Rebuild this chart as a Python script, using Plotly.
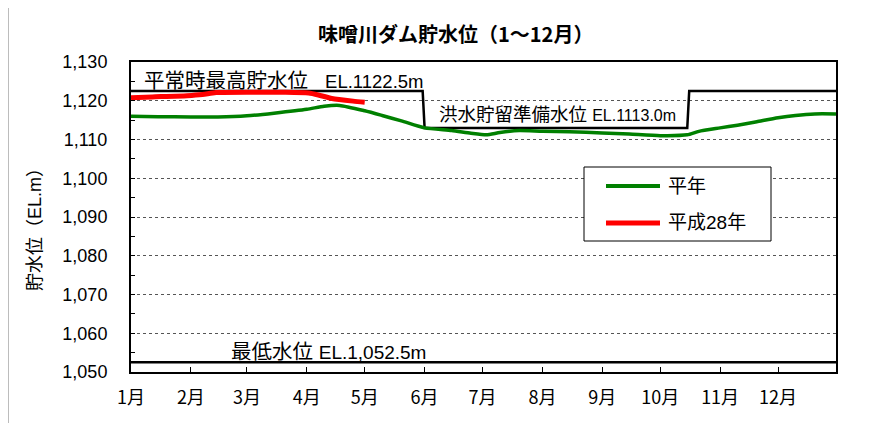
import plotly.graph_objects as go

# ---- data ----
month_labels = ["1月", "2月", "3月", "4月", "5月", "6月", "7月", "8月", "9月", "10月", "11月", "12月"]
month_starts = ["2016-01-01", "2016-02-01", "2016-03-01", "2016-04-01", "2016-05-01", "2016-06-01",
                "2016-07-01", "2016-08-01", "2016-09-01", "2016-10-01", "2016-11-01", "2016-12-01"]

normal_dates = ["2016-01-01", "2016-01-15", "2016-02-01", "2016-02-15", "2016-03-01", "2016-03-15",
                "2016-04-01", "2016-04-10", "2016-04-18", "2016-05-01", "2016-05-10", "2016-05-20",
                "2016-06-01", "2016-06-15", "2016-06-25", "2016-07-03", "2016-07-10", "2016-07-20",
                "2016-08-01", "2016-08-15", "2016-09-01", "2016-09-15", "2016-10-01", "2016-10-15",
                "2016-10-21", "2016-11-01", "2016-11-10", "2016-11-20", "2016-12-01", "2016-12-10",
                "2016-12-20", "2016-12-31"]
normal_values = [1116.0, 1115.9, 1115.8, 1115.8, 1116.1, 1116.8,
                 1117.8, 1118.6, 1118.8, 1117.4, 1116.2, 1114.8,
                 1113.0, 1112.3, 1111.6, 1111.2, 1111.8, 1112.3,
                 1112.1, 1112.0, 1111.7, 1111.4, 1111.0, 1111.2,
                 1112.1, 1113.0, 1113.7, 1114.6, 1115.6, 1116.2,
                 1116.6, 1116.6]

h28_dates = ["2016-01-01", "2016-01-12", "2016-01-30", "2016-02-07", "2016-02-14", "2016-03-04",
             "2016-03-21", "2016-04-02", "2016-04-07", "2016-04-14", "2016-04-25", "2016-05-01"]
h28_values = [1120.8, 1121.0, 1121.3, 1121.6, 1122.1, 1122.2,
              1122.2, 1122.0, 1121.5, 1120.6, 1119.9, 1119.6]

rule_dates = ["2016-01-01", "2016-05-31", "2016-06-01", "2016-10-15", "2016-10-16", "2016-12-31"]
rule_values = [1122.5, 1122.5, 1113.0, 1113.0, 1122.5, 1122.5]

min_dates = ["2016-01-01", "2016-12-31"]
min_values = [1052.5, 1052.5]

y_ticks = [1050, 1060, 1070, 1080, 1090, 1100, 1110, 1120, 1130]
y_tick_labels = ["1,050", "1,060", "1,070", "1,080", "1,090", "1,100", "1,110", "1,120", "1,130"]

# ---- layout geometry (screen pixels; page body adds an 8px offset) ----
W, H = 876, 423
OFF = 8
L, R, T, B = 131, 836, 62, 372


def px(x):
    return (x - L) / (R - L)


def py(y):
    return (B - y) / (B - T)


FONT = "Liberation Sans, Arial, Noto Sans CJK JP, sans-serif"
CJK = "Noto Sans CJK JP, Liberation Sans, sans-serif"

fig = go.Figure()
fig.add_trace(go.Scatter(x=rule_dates, y=rule_values, mode="lines", name="平常時最高貯水位",
                         line=dict(color="black", width=2.5), showlegend=False, hoverinfo="skip"))
fig.add_trace(go.Scatter(x=min_dates, y=min_values, mode="lines", name="最低水位",
                         line=dict(color="black", width=2.5), showlegend=False, hoverinfo="skip"))
fig.add_trace(go.Scatter(x=normal_dates, y=normal_values, mode="lines", name="平年",
                         line=dict(color="#008000", width=3.5, shape="spline", smoothing=0.6),
                         showlegend=False))
fig.add_trace(go.Scatter(x=h28_dates, y=h28_values, mode="lines", name="平成28年",
                         line=dict(color="#ff0000", width=5, shape="spline", smoothing=0.6),
                         showlegend=False))

shapes = [
    # outer chart border
    dict(type="rect", xref="paper", yref="paper", x0=px(8), x1=px(871), y0=py(440), y1=py(7),
         line=dict(color="#7a7a7a", width=1), fillcolor="rgba(0,0,0,0)", layer="below"),
    # legend box
    dict(type="rect", xref="paper", yref="paper", x0=px(584), x1=px(771), y0=py(241), y1=py(167),
         line=dict(color="black", width=1), fillcolor="white", layer="above"),
    dict(type="line", xref="paper", yref="paper", x0=px(606), x1=px(660), y0=py(186), y1=py(186),
         line=dict(color="#008000", width=4)),
    dict(type="line", xref="paper", yref="paper", x0=px(606), x1=px(660), y0=py(223), y1=py(223),
         line=dict(color="#ff0000", width=5)),
]

annotations = [
    dict(text="<b>味噌川ダム貯水位（1～12月）</b>", x=px(455), y=py(34), xref="paper", yref="paper",
         showarrow=False, xanchor="center", yanchor="middle", font=dict(family=CJK, size=20, color="black")),
    dict(text="平常時最高貯水位   <span style='font-size:18.5px'>EL.1122.5m</span>", x=px(142), y=py(80),
         xref="paper", yref="paper", showarrow=False, xanchor="left", yanchor="middle",
         font=dict(family=FONT, size=20.5, color="black")),
    dict(text="洪水貯留準備水位 <span style='font-size:16px'>EL.1113.0m</span>", x=px(437), y=py(114),
         xref="paper", yref="paper", showarrow=False, xanchor="left", yanchor="middle",
         font=dict(family=FONT, size=18.5, color="black")),
    dict(text="最低水位 <span style='font-size:19px'>EL.1,052.5m</span>", x=px(229), y=py(351),
         xref="paper", yref="paper", showarrow=False, xanchor="left", yanchor="middle",
         font=dict(family=FONT, size=20.5, color="black")),
    dict(text="貯水位（EL.m）", x=px(35), y=py(225), xref="paper", yref="paper", textangle=-90,
         showarrow=False, xanchor="center", yanchor="middle", font=dict(family=FONT, size=18, color="black")),
    dict(text="平年", x=px(666), y=py(186), xref="paper", yref="paper", showarrow=False,
         xanchor="left", yanchor="middle", font=dict(family=FONT, size=19, color="black")),
    dict(text="平成28年", x=px(666), y=py(223), xref="paper", yref="paper", showarrow=False,
         xanchor="left", yanchor="middle", font=dict(family=FONT, size=19, color="black")),
]

fig.update_layout(
    width=W, height=H,
    margin=dict(l=L - OFF, r=W - (R - L) - (L - OFF), t=T - OFF, b=H - (B - T) - (T - OFF), pad=0),
    paper_bgcolor="white", plot_bgcolor="white",
    font=dict(family=FONT, color="black"),
    shapes=shapes, annotations=annotations,
    showlegend=False,
)
fig.update_xaxes(
    type="date", range=["2016-01-01", "2016-12-31"],
    tickmode="array", tickvals=month_starts, ticktext=month_labels,
    ticks="inside", ticklen=5, tickwidth=1, tickcolor="black",
    tickfont=dict(family=CJK, size=18, color="black"), ticklabelstandoff=8,
    showgrid=False, zeroline=False,
    showline=True, linecolor="black", linewidth=2, mirror=True,
)
fig.update_yaxes(
    range=[1050, 1130], tickmode="array", tickvals=y_ticks, ticktext=y_tick_labels,
    ticks="inside", ticklen=4, tickwidth=1, tickcolor="black",
    minor=dict(dtick=5, ticks="inside", ticklen=4, tickcolor="black", showgrid=False),
    tickfont=dict(family=FONT, size=18, color="black"), ticklabelstandoff=18,
    showgrid=True, gridcolor="#555555", griddash="dot", gridwidth=1,
    zeroline=False,
    showline=True, linecolor="black", linewidth=2, mirror=True,
)

fig.write_html("out.html")
